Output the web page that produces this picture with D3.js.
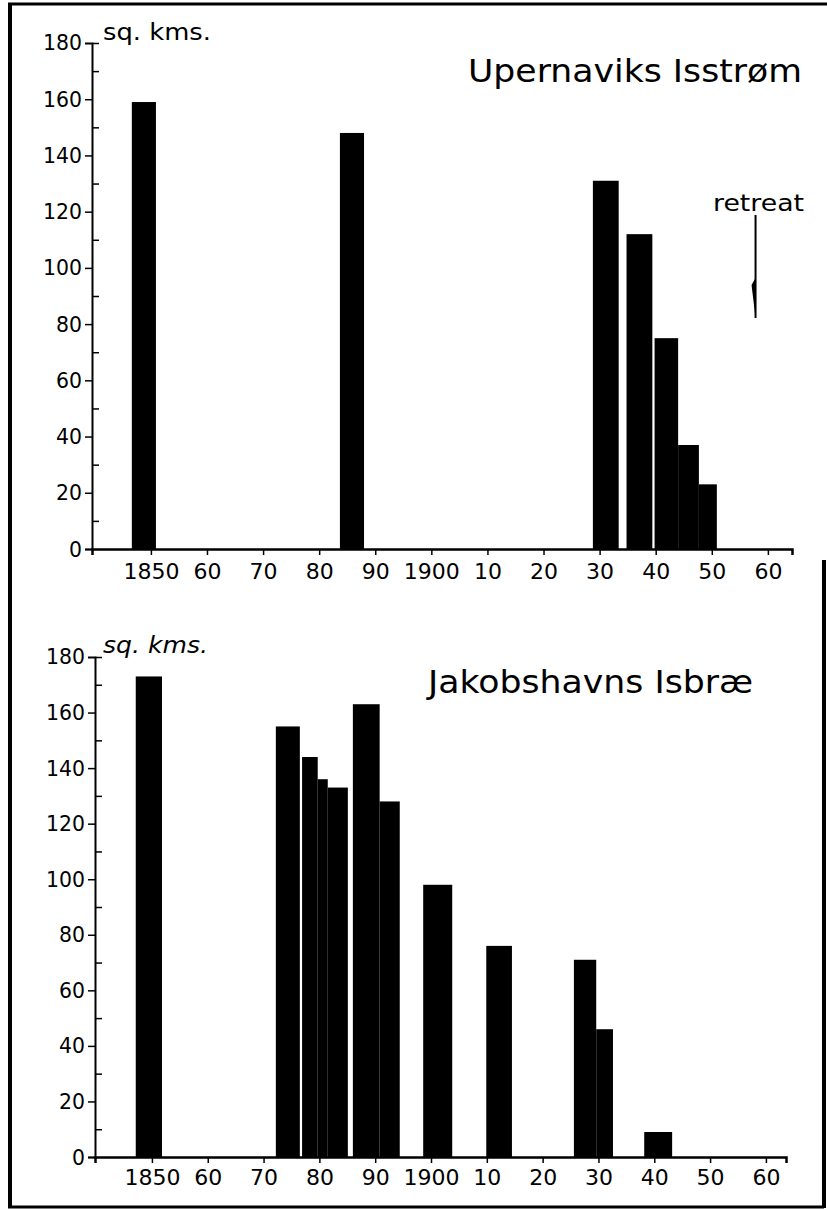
<!DOCTYPE html>
<html>
<head>
<meta charset="utf-8">
<script src="https://cdn.jsdelivr.net/npm/d3@7"></script>
<style>
  body { margin: 0; background: #fff; }
  svg { display: block; font-family: "DejaVu Sans", Verdana, sans-serif; }
</style>
</head>
<body>
<div id="chart"></div>
<script>
// decade ticks shared by both panels
const yearTicks  = [1850, 1860, 1870, 1880, 1890, 1900, 1910, 1920, 1930, 1940, 1950, 1960];
const yearLabels = ["1850", "60", "70", "80", "90", "1900", "10", "20", "30", "40", "50", "60"];
const areaTicks  = [0, 20, 40, 60, 80, 100, 120, 140, 160, 180];
const areaMinor  = [10, 30, 50, 70, 90, 110, 130, 150, 170, 180];

// Upernaviks Isstrøm: each bar spans [start, end] years, height = area in sq. kms
const upStart = [1846.6, 1883.7, 1928.8, 1934.8, 1939.8, 1944.0, 1947.7];
const upEnd   = [1850.9, 1888.0, 1933.4, 1939.4, 1944.0, 1947.7, 1950.9];
const upArea  = [159, 148, 131, 112, 75, 37, 23];

// Jakobshavns Isbræ
const jkStart = [1847.1, 1872.2, 1876.9, 1879.7, 1881.5, 1886.0, 1890.8, 1898.6, 1909.9, 1925.6, 1929.6, 1938.2];
const jkEnd   = [1851.8, 1876.5, 1879.7, 1881.5, 1885.1, 1890.8, 1894.4, 1903.8, 1914.5, 1929.6, 1932.6, 1943.2];
const jkArea  = [173, 155, 144, 136, 133, 163, 128, 98, 76, 71, 46, 9];

const W = 827, H = 1209;

const svg = d3.select("#chart").append("svg")
  .attr("width", W)
  .attr("height", H);

// frame of the scanned page
const frame = svg.append("g").attr("stroke", "#000").attr("fill", "none");
frame.append("line").attr("x1", 10).attr("x2", 10).attr("y1", 3).attr("y2", 1208).attr("stroke-width", 4);
frame.append("line").attr("x1", 8).attr("x2", 827).attr("y1", 4).attr("y2", 4).attr("stroke-width", 3);
frame.append("line").attr("x1", 8).attr("x2", 824).attr("y1", 1207).attr("y2", 1207).attr("stroke-width", 3);
frame.append("line").attr("x1", 824).attr("x2", 824).attr("y1", 560).attr("y2", 1208).attr("stroke-width", 4);

function drawPanel(cfg) {
  const bars = cfg.start.map((s, i) => ({ start: s, end: cfg.end[i], area: cfg.area[i] }));

  const x = d3.scaleLinear().domain(cfg.years).range(cfg.xRange);
  const y = d3.scaleLinear().domain([0, 180]).range(cfg.yRange);

  const g = svg.append("g");

  // bars
  g.append("g").selectAll("rect")
    .data(bars)
    .enter()
    .append("rect")
    .attr("x", d => x(d.start))
    .attr("y", d => y(d.area))
    .attr("width", d => x(d.end) - x(d.start))
    .attr("height", d => y(0) - y(d.area))
    .attr("fill", "#000");

  // x axis
  const xAxis = g.append("g")
    .attr("transform", "translate(0," + cfg.yRange[0] + ")")
    .call(d3.axisBottom(x)
      .tickValues(yearTicks)
      .tickFormat((d, i) => yearLabels[i])
      .tickSizeOuter(0)
      .tickSize(6)
      .tickPadding(cfg.xPad));
  xAxis.select(".domain").attr("stroke-width", 2.5);
  xAxis.selectAll(".tick line").attr("stroke-width", 1.5);
  xAxis.selectAll("text")
    .attr("font-size", 22)
    .attr("font-family", "DejaVu Sans")
    .attr("fill", "#000");

  // y axis, labelled ticks outside
  const yAxis = g.append("g")
    .attr("transform", "translate(" + cfg.xRange[0] + ",0)")
    .call(d3.axisLeft(y)
      .tickValues(areaTicks.filter(v => v !== 180))
      .tickSizeOuter(0)
      .tickSize(7)
      .tickPadding(3));
  yAxis.select(".domain").attr("stroke-width", 2);
  yAxis.selectAll(".tick line").attr("stroke-width", 1.5);
  yAxis.selectAll("text")
    .attr("font-size", 22)
    .attr("font-family", "DejaVu Sans")
    .attr("textLength", function() { return this.textContent.length * 13; })
    .attr("lengthAdjust", "spacingAndGlyphs")
    .attr("fill", "#000");

  // 180 label sits beside the top bracket
  g.append("text")
    .attr("x", cfg.xRange[0] - 10)
    .attr("y", y(180))
    .attr("dy", "0.32em")
    .attr("text-anchor", "end")
    .attr("font-size", 22)
    .attr("textLength", 39)
    .attr("lengthAdjust", "spacingAndGlyphs")
    .text("180");

  // minor ticks pointing inward
  const yMinor = g.append("g")
    .attr("transform", "translate(" + cfg.xRange[0] + ",0)")
    .call(d3.axisRight(y)
      .tickValues(areaMinor)
      .tickSizeOuter(0)
      .tickSize(7)
      .tickFormat(""));
  yMinor.select(".domain").remove();
  yMinor.selectAll(".tick line").attr("stroke-width", 1.5);

  // unit label
  g.append("text")
    .attr("x", cfg.unitX)
    .attr("y", cfg.unitY)
    .attr("font-size", 23)
    .attr("font-style", cfg.italicUnit ? "italic" : null)
    .attr("textLength", cfg.unitLen)
    .attr("lengthAdjust", "spacingAndGlyphs")
    .text("sq. kms.");

  // title
  g.append("text")
    .attr("x", cfg.titleX)
    .attr("y", cfg.titleY)
    .attr("font-size", 32)
    .attr("textLength", cfg.titleLen)
    .attr("lengthAdjust", "spacingAndGlyphs")
    .text(cfg.title);

  return { g, x, y };
}

const upperPanel = drawPanel({
  start: upStart, end: upEnd, area: upArea,
  years: [1839.5, 1964.3], xRange: [92, 792], yRange: [549, 43],
  xPad: 8,
  title: "Upernaviks Isstrøm", titleX: 468, titleY: 82, titleLen: 334,
  unitX: 103, unitY: 40, unitLen: 108, italicUnit: false
});

drawPanel({
  start: jkStart, end: jkEnd, area: jkArea,
  years: [1839.8, 1963.6], xRange: [95, 786], yRange: [1157, 657],
  xPad: 6,
  title: "Jakobshavns Isbræ", titleX: 428, titleY: 693, titleLen: 325,
  unitX: 103, unitY: 653, unitLen: 105, italicUnit: true
});

// "retreat" marker in the upper panel
const rx = upperPanel.x(1957.8);
upperPanel.g.append("text")
  .attr("x", 713)
  .attr("y", 211)
  .attr("font-size", 23)
  .attr("textLength", 91)
  .attr("lengthAdjust", "spacingAndGlyphs")
  .text("retreat");
upperPanel.g.append("line")
  .attr("x1", rx).attr("x2", rx)
  .attr("y1", 215).attr("y2", 318)
  .attr("stroke", "#000")
  .attr("stroke-width", 2);
upperPanel.g.append("path")
  .attr("d", "M" + rx + ",278 L" + (rx - 4) + ",285 L" + rx + ",318 Z")
  .attr("fill", "#000");
</script>
</body>
</html>
